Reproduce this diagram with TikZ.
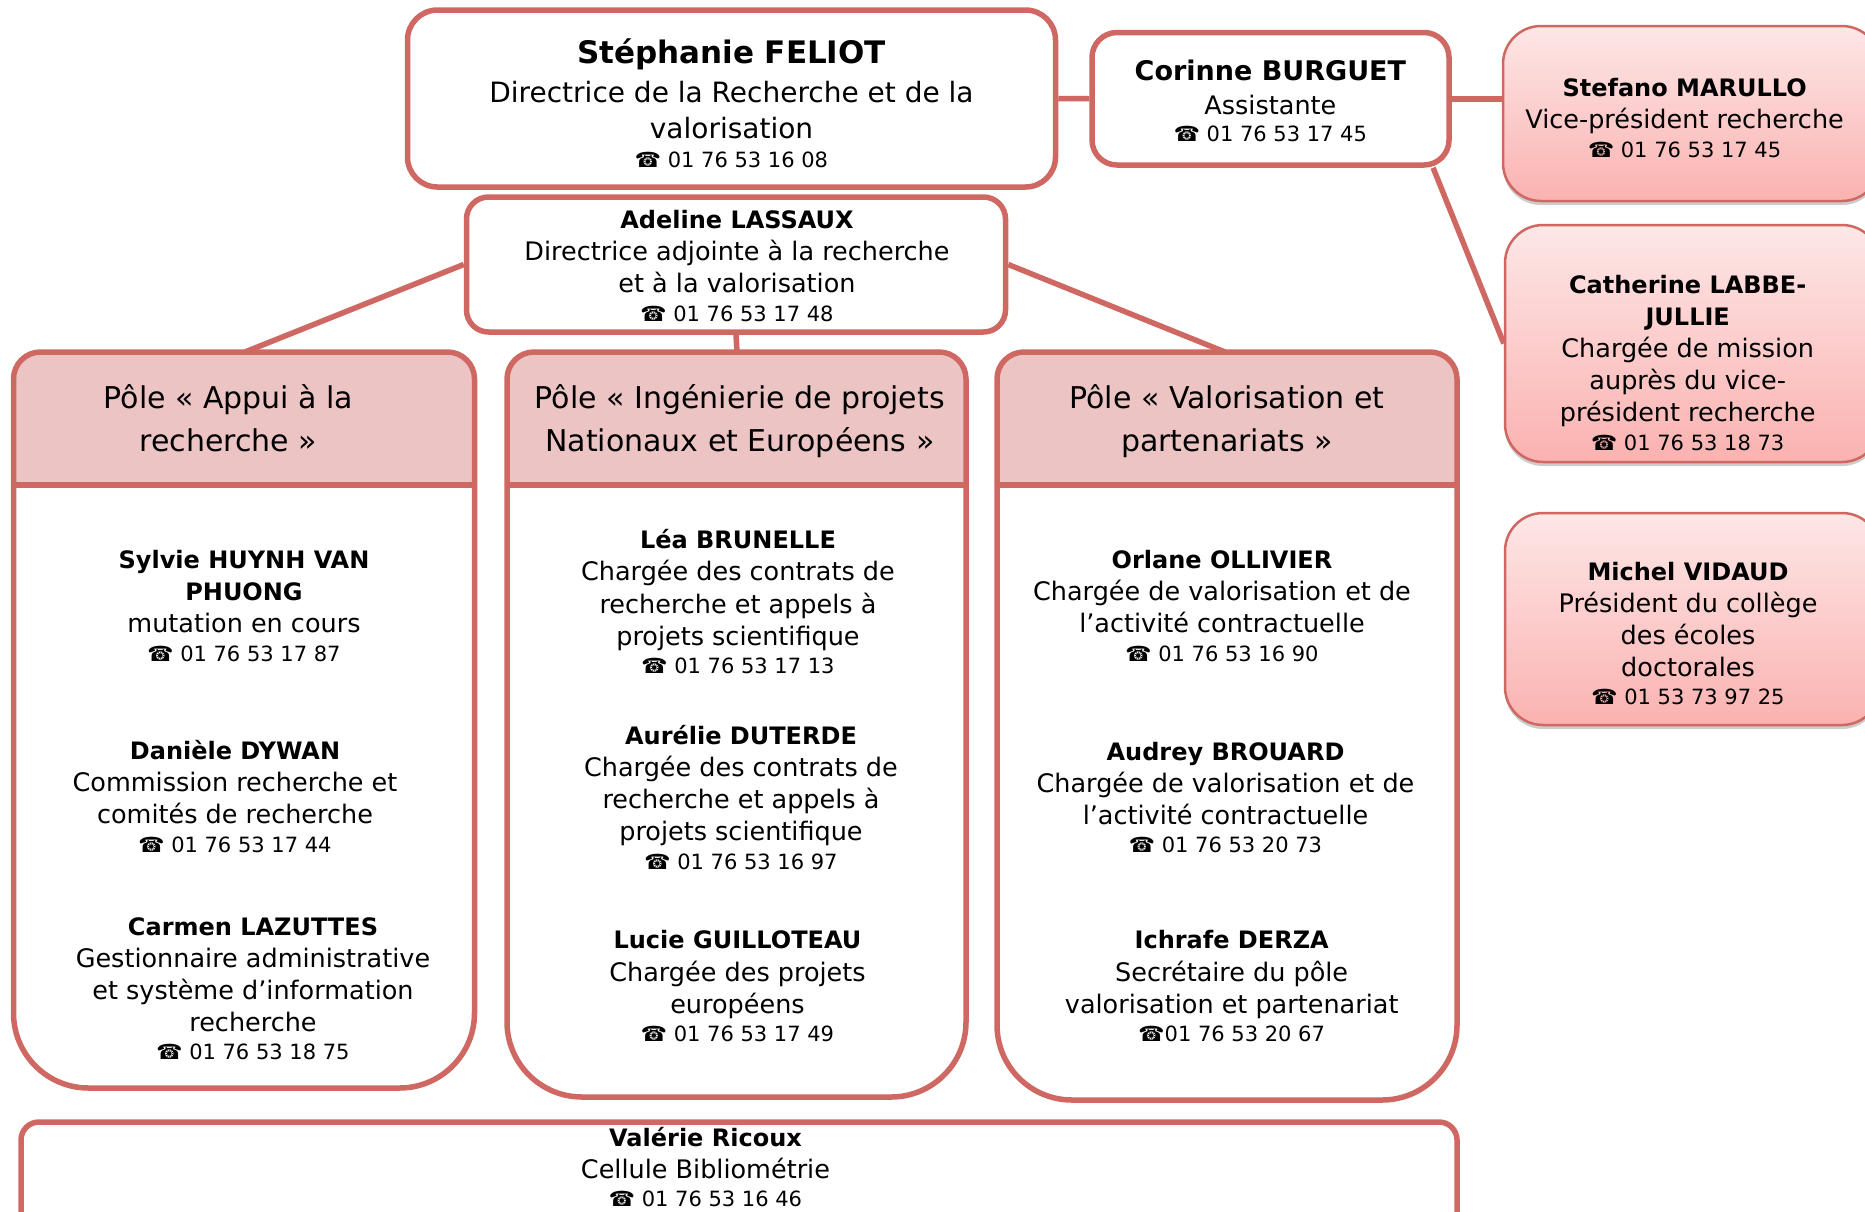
\documentclass[tikz,border=0pt]{standalone}
\usepackage{fontspec}
\setmainfont{DejaVu Sans}
\usetikzlibrary{shadows,backgrounds}
\definecolor{bord}{RGB}{207,104,98}
\definecolor{headfill}{RGB}{236,196,195}
\definecolor{pinktop}{RGB}{253,231,231}
\definecolor{pinkbot}{RGB}{250,178,176}
\newcommand\phn[1]{{\fontsize{21}{28}\selectfont ☎ #1}}
\newcommand\pnm[1]{{\fontsize{24}{32.1}\selectfont\bfseries #1}}
\newcommand\drawpole[3]{%
  \begin{scope}
    \clip (#1,352) rectangle (#2,485);
    \fill[headfill, rounded corners=27pt] (#1,352) rectangle (#2,560);
  \end{scope}
  \draw[bline, rounded corners=27pt] (#1,485) -- (#1,352) -- (#2,352) -- (#2,485);
  \draw[bline, rounded corners=75pt] (#1,485) -- (#1,#3) -- (#2,#3) -- (#2,485);
  \draw[bline] (#1,485) -- (#2,485);
}
\tikzset{
  bline/.style={draw=bord, line width=5.5pt},
  wbox/.style={bline, fill=white, rectangle, inner sep=0pt},
  pinkbox/.style={draw=bord, line width=2.5pt, rectangle, rounded corners=38pt,
    top color=pinktop, bottom color=pinkbot, inner sep=0pt,
    drop shadow={shadow xshift=0pt, shadow yshift=-4pt, opacity=0.2, fill=black}},
  conn/.style={draw=bord, line width=5.5pt},
  txt/.style={align=center, inner sep=0pt, font=\fontsize{25.5}{32.1}\selectfont},
  head/.style={align=center, inner sep=0pt, font=\fontsize{30}{43}\selectfont},
}
\begin{document}
\begin{tikzpicture}[x=1pt, y=-1pt]
\useasboundingbox (0,0) rectangle (1865,1211);
\clip (0,0) rectangle (1865,1211);

% pole top coordinates
\coordinate (p1top) at (245,352);
\coordinate (p2top) at (737,352);
\coordinate (p3top) at (1225,352);

% boxes
\node[wbox, rounded corners=30pt, minimum width=648pt, minimum height=177pt] (steph) at (731.5,98.5) {};
\node[wbox, rounded corners=25pt, minimum width=357pt, minimum height=132.5pt] (cor) at (1270.5,98.75) {};
\node[pinkbox, minimum width=377pt, minimum height=175pt] (stef) at (1691.5,113.5) {};
\node[pinkbox, minimum width=375pt, minimum height=237pt] (cath) at (1692.5,343.5) {};
\node[pinkbox, minimum width=375pt, minimum height=212pt] (mich) at (1692.5,619) {};
\node[wbox, rounded corners=22pt, minimum width=539pt, minimum height=135pt] (adel) at (736,264.5) {};

% connectors (behind the boxes)
\begin{scope}[on background layer]
  \fill[white] (0,0) rectangle (1865,1211);
  \draw[conn] (steph.east) -- (cor.west);
  \draw[conn] (cor.east) -- (cor.east -| stef.west);
  \draw[conn] (cor.-23.8) -- (cath.west);
  \draw[conn] (adel.west) -- (p1top);
  \draw[conn] (adel.south) -- (p2top);
  \draw[conn] (adel.east) -- (p3top);
\end{scope}

% poles
\drawpole{13.5}{474.5}{1088}
\drawpole{507}{966}{1097}
\drawpole{997}{1457}{1100}

% bottom box
\node[wbox, rounded corners=18pt, minimum width=1436pt, minimum height=136pt] (val) at (739,1190) {};

% texts: top boxes
\node[txt, font=\fontsize{28}{35.7}\selectfont] (tsteph) at (731.5,103)
  {{\fontsize{31}{35.7}\selectfont\bfseries Stéphanie FELIOT}\\[3.6pt]
   Directrice de la Recherche et de la\\ valorisation\\[-7.2pt] \phn{01 76 53 16 08}};
\node[txt] (tcor) at (1270.4,101)
  {{\fontsize{27}{32.1}\selectfont\bfseries Corinne BURGUET}\\[1.2pt]
   Assistante\\[-4.8pt] \phn{01 76 53 17 45}};
\node[txt] (tadel) at (737,266)
  {\pnm{Adeline LASSAUX}\\ Directrice adjointe à la recherche\\ et à la valorisation\\[-3.6pt] \phn{01 76 53 17 48}};

% pink boxes texts
\node[txt] (tstef) at (1684.6,117.8)
  {\pnm{Stefano MARULLO}\\ Vice-président recherche\\[-3.6pt] \phn{01 76 53 17 45}};
\node[txt] (tcath) at (1687.7,363)
  {\pnm{Catherine LABBE-}\\ \pnm{JULLIE}\\ Chargée de mission\\ auprès du vice-\\ président recherche\\[-3.6pt] \phn{01 76 53 18 73}};
\node[txt] (tmich) at (1688,633.5)
  {\pnm{Michel VIDAUD}\\ Président du collège\\ des écoles\\ doctorales\\[-3.6pt] \phn{01 53 73 97 25}};

% pole headers
\node[head] (h1) at (228.5,418) {Pôle « Appui à la\\ recherche »};
\node[head] (h2) at (739.8,421) {Pôle « Ingénierie de projets\\ Nationaux et Européens »};
\node[head] (h3) at (1226.9,421) {Pôle « Valorisation et\\ partenariats »};

% pole 1 people
\node[txt] (sylvie) at (244,606)
  {\pnm{Sylvie HUYNH VAN}\\ \pnm{PHUONG}\\ mutation en cours\\[-3.6pt] \phn{01 76 53 17 87}};
\node[txt] (daniele) at (235,796.5)
  {\pnm{Danièle DYWAN}\\ Commission recherche et\\ comités de recherche\\[-3.6pt] \phn{01 76 53 17 44}};
\node[txt] (carmen) at (253,988.8)
  {\pnm{Carmen LAZUTTES}\\ Gestionnaire administrative\\ et système d’information\\ recherche\\[-3.6pt] \phn{01 76 53 18 75}};

% pole 2 people
\node[txt] (lea) at (738,601.8)
  {\pnm{Léa BRUNELLE}\\ Chargée des contrats de\\ recherche et appels à\\ projets scientifique\\[-3.6pt] \phn{01 76 53 17 13}};
\node[txt] (aurelie) at (741,797.4)
  {\pnm{Aurélie DUTERDE}\\ Chargée des contrats de\\ recherche et appels à\\ projets scientifique\\[-3.6pt] \phn{01 76 53 16 97}};
\node[txt] (lucie) at (737.5,986.3)
  {\pnm{Lucie GUILLOTEAU}\\ Chargée des projets\\ européens\\[-3.6pt] \phn{01 76 53 17 49}};

% pole 3 people
\node[txt] (orlane) at (1222,606)
  {\pnm{Orlane OLLIVIER}\\ Chargée de valorisation et de\\ l’activité contractuelle\\[-3.6pt] \phn{01 76 53 16 90}};
\node[txt] (audrey) at (1225.5,797.5)
  {\pnm{Audrey BROUARD}\\ Chargée de valorisation et de\\ l’activité contractuelle\\[-3.6pt] \phn{01 76 53 20 73}};
\node[txt] (ichrafe) at (1231.7,986.3)
  {\pnm{Ichrafe DERZA}\\ Secrétaire du pôle\\ valorisation et partenariat\\[-3.6pt] {\fontsize{21}{28}\selectfont ☎01 76 53 20 67}};

% bottom text
\node[txt] (tval) at (705.5,1167)
  {\pnm{Valérie Ricoux}\\ Cellule Bibliométrie\\[-4.6pt] \phn{01 76 53 16 46}};
\end{tikzpicture}
\end{document}
